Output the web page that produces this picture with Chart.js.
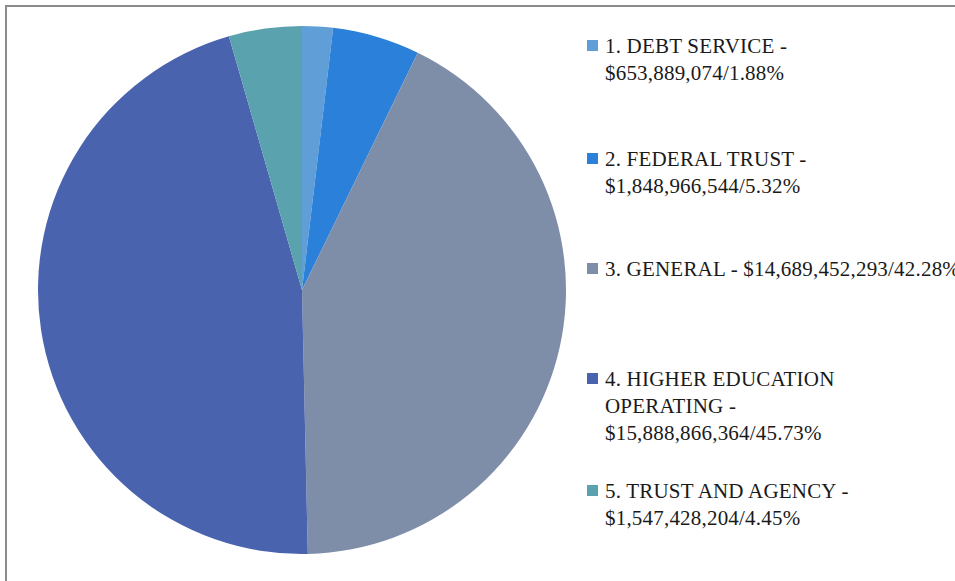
<!DOCTYPE html>
<html>
<head>
<meta charset="utf-8">
<script src="https://cdn.jsdelivr.net/npm/chart.js@4"></script>
<style>
  html, body { margin: 0; padding: 0; background: #fff; overflow: hidden; }
  body { width: 955px; height: 581px; position: relative; }
  #frame { position: absolute; left: 5px; top: 5px; width: 2000px; height: 2000px;
           border-top: 2px solid #8c8c8c; border-left: 2px solid #8c8c8c; }
  #pieBox { position: absolute; left: 38px; top: 26px; width: 528px; height: 528px; }
  .item { position: absolute; left: 587px; font-family: "Liberation Serif", serif;
          font-size: 21px; line-height: 27px; color: #1a1a1a; white-space: nowrap;
          letter-spacing: 0.2px; }
  .item .box { position: absolute; left: 0; top: 7px; width: 11px; height: 11px; }
  .item .txt { margin-left: 18px; }
</style>
</head>
<body>
<div id="frame"></div>
<div id="pieBox"><canvas id="pieChart"></canvas></div>
<div id="legend"></div>
<script>
var names = ["1. DEBT SERVICE", "2. FEDERAL TRUST", "3. GENERAL", "4. HIGHER EDUCATION OPERATING", "5. TRUST AND AGENCY"];
var amounts = [653889074, 1848966544, 14689452293, 15888866364, 1547428204];
var percents = [1.88, 5.32, 42.28, 45.73, 4.45];
var colors = ["#5f9ed6", "#2b80d9", "#7f8ea8", "#4a63ae", "#5aa2ad"];
// where the legend text breaks into lines
var legendLines = [
  ["1. DEBT SERVICE -", "$653,889,074/1.88%"],
  ["2. FEDERAL TRUST -", "$1,848,966,544/5.32%"],
  ["3. GENERAL - $14,689,452,293/42.28%"],
  ["4. HIGHER EDUCATION", "OPERATING -", "$15,888,866,364/45.73%"],
  ["5. TRUST AND AGENCY -", "$1,547,428,204/4.45%"]
];
var legendTops = [33, 146, 256, 366, 478];

new Chart("pieChart", {
  type: "pie",
  data: {
    labels: names,
    datasets: [{
      data: percents,
      backgroundColor: colors,
      borderWidth: 0
    }]
  },
  options: {
    responsive: true,
    maintainAspectRatio: false,
    animation: false,
    plugins: {
      legend: { display: false },
      tooltip: { enabled: false }
    }
  }
});

var legend = document.getElementById("legend");
names.forEach(function (n, i) {
  var d = document.createElement("div");
  d.className = "item";
  d.style.top = legendTops[i] + "px";
  d.innerHTML = '<span class="box" style="background:' + colors[i] + '"></span>' +
    '<div class="txt">' + legendLines[i].join("<br>") + '</div>';
  legend.appendChild(d);
});
</script>
</body>
</html>
